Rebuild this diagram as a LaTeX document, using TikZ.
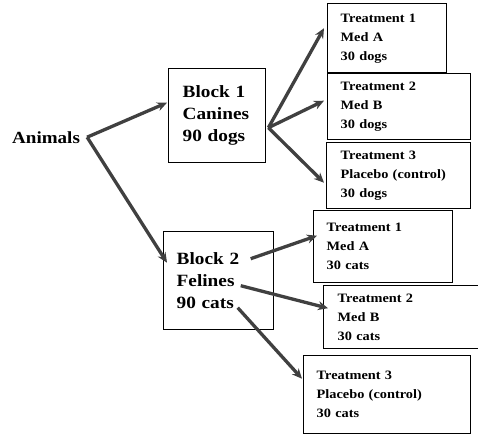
\documentclass[tikz,border=0pt]{standalone}
\usepackage{fontspec}
\setmainfont{Liberation Serif}[FakeStretch=1.12]
\usetikzlibrary{arrows.meta}
\newcommand\tfont{\fontsize{12.8}{19}\selectfont\bfseries}
\newcommand\bfnt{\fontsize{17.2}{22}\selectfont\bfseries}
\definecolor{arrowgray}{HTML}{404040}
\tikzset{
  box/.style={draw, line width=1.4pt, rectangle, anchor=north west, align=left, inner ysep=0pt},
  tbox/.style={box, font=\tfont, inner xsep=13pt},
  bbox/.style={box, font=\bfnt, inner xsep=14pt},
  arr/.style={draw=arrowgray, line width=3.3pt, -{Stealth[length=10pt,width=9pt]}, arrowgray},
}
\begin{document}
\begin{tikzpicture}[x=1pt,y=-1pt]
\clip (0,0) rectangle (478,436);
\fill[white] (0,0) rectangle (478,436);
\node[anchor=base west, inner sep=0pt, font=\fontsize{17}{20}\selectfont\bfseries] (an) at (12,143) {Animals};
\node[bbox, minimum width=97pt, minimum height=94pt, text width=69pt] (b1) at (168,68) {Block 1\\Canines\\90 dogs};
\node[bbox, minimum width=110pt, minimum height=98pt, text width=84pt, inner xsep=13pt] (b2) at (163,231) {Block 2\\Felines\\90 cats};
\node[tbox, minimum width=119pt, minimum height=69pt, text width=93pt] (d1) at (327,3) {Treatment 1\\Med A\\30 dogs};
\node[tbox, minimum width=143pt, minimum height=66pt, text width=117pt] (d2) at (327,73) {Treatment 2\\Med B\\30 dogs};
\node[tbox, minimum width=142pt, minimum height=66pt, text width=116pt, inner xsep=14pt] (d3) at (326,142) {Treatment 3\\Placebo (control)\\30 dogs};
\node[tbox, minimum width=139pt, minimum height=72pt, text width=113pt] (c1) at (313,210) {Treatment 1\\Med A\\30 cats};
\node[tbox, minimum width=165pt, minimum height=63pt, text width=137pt, inner xsep=14pt] (c2) at (323,285) {Treatment 2\\Med B\\30 cats};
\node[tbox, minimum width=167pt, minimum height=78pt, text width=141pt] (c3) at (303,355) {Treatment 3\\Placebo (control)\\30 cats};
\draw[arr] ([xshift=7pt]an.east) -- ([xshift=-1pt,yshift=13pt]b1.west);
\draw[arr] ([xshift=7pt]an.east) -- ([xshift=4pt,yshift=18pt]b2.west);
\draw[arr] ([xshift=2pt,yshift=-12pt]b1.east) -- ([xshift=-3pt,yshift=10pt]d1.west);
\draw[arr] ([xshift=2pt,yshift=-12pt]b1.east) -- ([xshift=-3pt,yshift=6pt]d2.west);
\draw[arr] ([xshift=2pt,yshift=-12pt]b1.east) -- ([xshift=-2pt,yshift=-7pt]d3.west);
\draw[arr] ([xshift=32pt,yshift=22pt]b2.center) -- ([xshift=4pt,yshift=11pt]c1.west);
\draw[arr] ([xshift=22pt,yshift=-5pt]b2.center) -- ([xshift=5pt,yshift=9pt]c2.west);
\draw[arr] ([xshift=19pt,yshift=-27pt]b2.center) -- ([xshift=-1pt,yshift=16pt]c3.west);
\end{tikzpicture}
\end{document}
